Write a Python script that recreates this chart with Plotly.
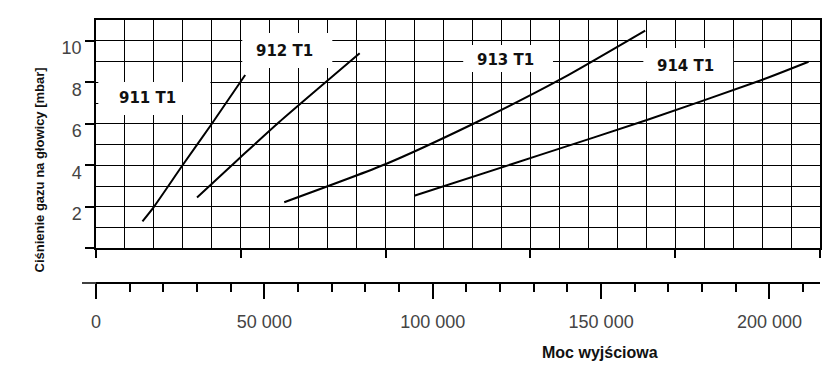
import plotly.graph_objects as go

# ---- data ----
power_911 = [13800, 17200, 25700, 34400, 44300]
pressure_911 = [1.3, 2.0, 4.0, 6.0, 8.35]

power_912 = [30000, 43000, 54500, 78300]
pressure_912 = [2.45, 4.4, 6.1, 9.4]

power_913 = [55900, 85900, 111900, 137600, 163100]
pressure_913 = [2.22, 4.05, 5.99, 8.11, 10.49]

power_914 = [94500, 131900, 163600, 197700, 211600]
pressure_914 = [2.53, 4.50, 6.18, 8.11, 8.99]

series_names = ["911 T1", "912 T1", "913 T1", "914 T1"]

x_tickvals = [0, 50000, 100000, 150000, 200000]
x_ticktext = ["0", "50 000", "100 000", "150 000", "200 000"]
y_tickvals = [0, 2, 4, 6, 8, 10]
y_ticktext = ["", "2", "4", "6", "8", "10"]

# label boxes in grid units (x2: cells, y: mbar)
label_text_pos = [(1.77, 7.26), (6.50, 9.51), (14.13, 9.09), (20.34, 8.80)]
label_boxes = [(0.08, 3.95, 6.42, 8.01), (5.05, 8.16, 8.69, 10.37),
               (12.68, 15.78, 8.50, 9.80), (18.90, 22.0, 8.05, 9.65)]

fig = go.Figure()
for px_, py_, nm in [(power_911, pressure_911, series_names[0]),
                     (power_912, pressure_912, series_names[1]),
                     (power_913, pressure_913, series_names[2]),
                     (power_914, pressure_914, series_names[3])]:
    fig.add_trace(go.Scatter(x=px_, y=py_, mode="lines", name=nm,
                             line=dict(color="black", width=2, shape="spline",
                                       smoothing=0.6),
                             showlegend=False, hoverinfo="skip"))
fig.add_trace(go.Scatter(x=[], y=[], xaxis="x2", showlegend=False))

grid = dict(color="black", width=1.3)
tickfont = dict(family="Liberation Sans, Arial", size=18, color="#444")

fig.update_layout(
    width=840, height=384,
    margin=dict(l=96, r=20, t=20, b=101),
    paper_bgcolor="white", plot_bgcolor="white",
    xaxis=dict(range=[0, 215000], anchor="free", position=0,
               showgrid=False, zeroline=False,
               showline=True, linecolor="black", linewidth=1.5,
               tickmode="array", tickvals=x_tickvals, ticktext=x_ticktext,
               ticks="outside", ticklen=15, tickwidth=2, tickcolor="black",
               tickfont=tickfont, ticklabelstandoff=8,
               minor=dict(dtick=10000, ticks="outside", ticklen=8,
                          tickwidth=1.5, tickcolor="black", showgrid=False)),
    xaxis2=dict(range=[0, 25], overlaying="x", anchor="y", side="bottom",
                showline=True, mirror=True, linecolor="black", linewidth=1.5,
                zeroline=False,
                tickmode="array", tickvals=[0, 5, 10, 15, 20, 25],
                showticklabels=False,
                ticks="outside", ticklen=8, tickwidth=1.5, tickcolor="black",
                showgrid=True, gridcolor=grid["color"], gridwidth=grid["width"],
                minor=dict(dtick=1, showgrid=True, gridcolor=grid["color"],
                           gridwidth=grid["width"], ticks="")),
    yaxis=dict(range=[0, 11], domain=[(283 - 248.3) / 263, 1],
               showline=True, mirror=True, linecolor="black", linewidth=1.5,
               zeroline=False,
               tickmode="array", tickvals=y_tickvals, ticktext=y_ticktext,
               ticks="outside", ticklen=9, tickwidth=1.5, tickcolor="black",
               tickfont=tickfont, ticklabelshift=7,
               showgrid=True, gridcolor=grid["color"], gridwidth=grid["width"],
               minor=dict(dtick=1, showgrid=True, gridcolor=grid["color"],
                          gridwidth=grid["width"], ticks="")),
)

shapes = []
for (x0, x1, y0, y1) in label_boxes:
    shapes.append(dict(type="rect", xref="x2", yref="y", x0=x0, x1=x1, y0=y0, y1=y1,
                       fillcolor="white", line=dict(width=0), layer="above"))
shapes.append(dict(type="line", xref="paper", yref="paper",
                   x0=(82 - 96) / 724, x1=0, y0=0, y1=0,
                   line=dict(color="black", width=1.5)))
fig.update_layout(shapes=shapes)

for (tx, ty), nm in zip(label_text_pos, series_names):
    fig.add_annotation(x=tx, y=ty, xref="x2", yref="y", text=f"<b>{nm}</b>",
                       showarrow=False,
                       font=dict(family="DejaVu Sans", size=15, color="#111"))

fig.add_annotation(x=(29 - 96) / 724, y=(283 - 170) / 263, xref="paper", yref="paper",
                   text="<b>Ciśnienie gazu na głowicy [mbar]</b>", textangle=-90,
                   showarrow=False,
                   font=dict(family="Liberation Sans, Arial", size=13, color="#111"))
fig.add_annotation(x=(660 - 96) / 724, y=(283 - 363) / 263, xref="paper", yref="paper",
                   text="<b>Moc wyjściowa</b>", showarrow=False,
                   font=dict(family="Liberation Sans, Arial", size=16, color="#111"))

fig.write_html("out.html")
